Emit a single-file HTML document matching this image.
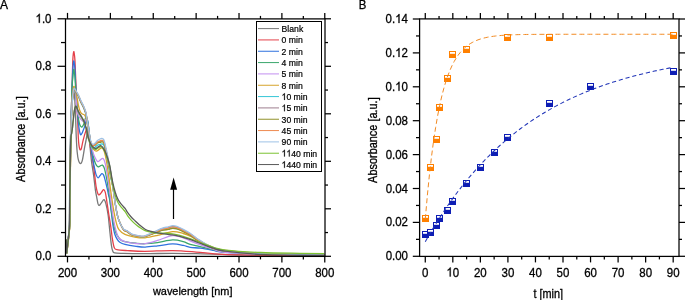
<!DOCTYPE html>
<html><head><meta charset="utf-8"><style>
html,body{margin:0;padding:0;background:#fff;width:685px;height:300px;overflow:hidden;position:relative;font-family:"Liberation Sans",sans-serif}
</style></head><body>
<div style="position:absolute;left:0;top:0;width:685px;height:300px;will-change:transform">
<svg xmlns="http://www.w3.org/2000/svg" width="685" height="300" viewBox="0 0 685 300" style="position:absolute;left:0;top:0">
<defs><filter id="bl" x="0" y="0" width="685" height="300" filterUnits="userSpaceOnUse" color-interpolation-filters="sRGB"><feConvolveMatrix order="3" kernelMatrix="" edgeMode="duplicate"/></filter></defs>
<g>
<rect width="685" height="300" fill="#fff"/>
<defs><clipPath id="ca"><rect x="66" y="19" width="258.5" height="237"/></clipPath></defs>
<g clip-path="url(#ca)" fill="none" stroke-width="1.3" stroke-linejoin="round">
<path d="M66.34,239.68C66.41,241.83 66.6,251.13 66.77,252.59C66.94,254.06 67.16,250.14 67.37,248.46C67.59,246.78 67.81,244.7 68.06,242.53C68.31,240.35 68.63,237.66 68.87,235.4C69.12,233.14 69.36,231.44 69.52,228.99C69.67,226.53 69.72,226.02 69.79,220.68C69.87,215.33 69.85,205.24 69.94,196.93C70.03,188.61 70.21,178.72 70.33,170.8C70.45,162.88 70.56,156.15 70.67,149.43C70.79,142.7 70.86,136.76 71.02,130.43C71.17,124.09 71.38,116.77 71.62,111.43C71.85,106.08 72.13,101.73 72.43,98.36C72.73,95 73.13,92.23 73.42,91.24C73.7,90.25 73.9,90.64 74.15,92.43C74.4,94.21 74.67,97.57 74.92,101.93C75.17,106.28 75.42,112.61 75.65,118.55C75.88,124.49 76.04,132.01 76.29,137.55C76.54,143.09 76.79,148.04 77.15,151.8C77.51,155.56 77.87,158.13 78.43,160.11C79,162.09 79.88,163.68 80.54,163.68C81.19,163.68 81.69,162.88 82.38,160.11C83.07,157.34 84.03,150.41 84.65,147.05C85.27,143.69 85.64,142.5 86.11,139.93C86.57,137.35 87.04,132.8 87.44,131.61C87.84,130.43 88.12,130.62 88.51,132.8C88.9,134.98 89.3,139.93 89.8,144.68C90.3,149.43 90.88,156.23 91.51,161.3C92.15,166.37 92.97,170.32 93.61,175.07C94.26,179.82 94.86,186.16 95.37,189.8C95.88,193.44 96.23,194.63 96.66,196.93C97.09,199.22 97.54,202.15 97.94,203.58C98.35,205 98.53,205.59 99.1,205.48C99.67,205.36 100.57,203.85 101.37,202.86C102.18,201.87 103.2,199.42 103.95,199.54C104.7,199.66 105.18,201 105.88,203.58C106.57,206.15 107.43,210.15 108.11,214.98C108.79,219.8 109.39,227.44 109.95,232.55C110.51,237.66 110.99,242.53 111.45,245.61C111.92,248.7 112.2,249.85 112.74,251.08C113.27,252.3 112.92,252.58 114.67,252.98C116.42,253.37 118.24,253.33 123.24,253.45C128.25,253.57 136.46,253.71 144.68,253.69C152.9,253.67 163.98,253.33 172.55,253.33C181.13,253.33 187.92,253.51 196.14,253.69C204.36,253.87 211.14,254.16 221.86,254.4C232.58,254.64 243.3,254.95 260.46,255.11C277.61,255.27 314.05,255.31 324.77,255.35" stroke="#787878"/>
<path d="M66.04,239.68C66.11,241.83 66.3,251.13 66.47,252.59C66.64,254.06 66.86,250.14 67.07,248.46C67.29,246.78 67.51,244.7 67.76,242.53C68.01,240.35 68.33,237.66 68.57,235.4C68.81,233.14 69.06,231.44 69.22,228.99C69.37,226.53 69.42,226.02 69.49,220.68C69.57,215.33 69.55,205.24 69.64,196.93C69.73,188.61 69.91,178.72 70.03,170.8C70.15,162.88 70.26,156.15 70.37,149.43C70.49,142.7 70.54,137.55 70.72,130.43C70.89,123.3 71.21,114.2 71.44,106.68C71.68,99.15 71.9,93.06 72.13,85.3C72.36,77.54 72.56,65.71 72.82,60.13C73.07,54.54 73.42,52.76 73.67,51.81C73.93,50.86 74.15,53.04 74.36,54.43C74.57,55.81 74.71,56.52 74.92,60.13C75.13,63.73 75.34,69.86 75.6,76.04C75.87,82.21 76.21,90.88 76.5,97.18C76.8,103.47 77.13,109.05 77.36,113.8C77.59,118.55 77.72,121.72 77.88,125.68C78.03,129.63 78.13,134.3 78.31,137.55C78.48,140.8 78.71,143.25 78.95,145.15C79.18,147.05 79.46,148.16 79.72,148.95C79.98,149.74 80.21,150.02 80.49,149.9C80.78,149.78 80.98,149.9 81.44,148.24C81.89,146.58 82.49,142.85 83.24,139.93C83.99,137 85.24,132.72 85.94,130.66C86.64,128.6 86.97,127.22 87.44,127.57C87.9,127.93 88.23,129.59 88.73,132.8C89.22,136.01 89.86,143.05 90.4,146.81C90.93,150.57 91.47,152.55 91.94,155.36C92.41,158.17 92.78,160.51 93.23,163.68C93.67,166.84 94.1,170.4 94.6,174.36C95.1,178.32 95.6,184.06 96.23,187.43C96.86,190.79 97.59,193.6 98.37,194.55C99.16,195.5 100.09,193.96 100.95,193.12C101.8,192.29 102.8,189.72 103.52,189.56C104.23,189.4 104.72,190.43 105.23,192.18C105.75,193.92 106.03,196.45 106.61,200.01C107.18,203.58 108,209.31 108.66,213.55C109.33,217.79 109.95,221.07 110.59,225.43C111.24,229.78 111.92,235.99 112.52,239.68C113.13,243.36 113.52,245.85 114.24,247.51C114.95,249.18 114.6,249.14 116.81,249.65C119.03,250.16 122.89,250.32 127.53,250.6C132.18,250.88 137.18,251.31 144.68,251.31C152.19,251.31 163.98,250.48 172.55,250.6C181.13,250.72 187.92,251.39 196.14,252.03C204.36,252.66 211.14,253.89 221.86,254.4C232.58,254.91 243.3,254.95 260.46,255.11C277.61,255.27 314.05,255.31 324.77,255.35" stroke="#e4404a"/>
<path d="M66.13,239.68C66.2,241.83 66.39,251.13 66.56,252.59C66.73,254.06 66.94,250.14 67.16,248.46C67.37,246.78 67.59,244.7 67.84,242.53C68.09,240.35 68.41,237.66 68.66,235.4C68.9,233.14 69.15,231.44 69.3,228.99C69.45,226.53 69.51,226.02 69.58,220.68C69.65,215.33 69.64,205.24 69.73,196.93C69.82,188.61 69.99,178.72 70.12,170.8C70.24,162.88 70.34,156.15 70.46,149.43C70.57,142.7 70.63,137.55 70.8,130.43C70.97,123.3 71.25,114.2 71.47,106.68C71.69,99.15 71.91,91.51 72.13,85.3C72.35,79.09 72.56,73.43 72.82,69.39C73.07,65.35 73.42,61.99 73.67,61.08C73.93,60.16 74.15,62.66 74.36,63.93C74.57,65.19 74.71,65.51 74.92,68.68C75.13,71.84 75.34,77.78 75.6,82.93C75.87,88.07 76.21,94.8 76.5,99.55C76.8,104.3 77.08,107.86 77.36,111.43C77.65,114.99 77.91,117.96 78.22,120.93C78.53,123.89 78.88,127.1 79.21,129.24C79.53,131.38 79.87,132.8 80.15,133.75C80.43,134.7 80.59,134.98 80.88,134.94C81.16,134.9 81.49,134.26 81.86,133.51C82.24,132.76 82.66,131.65 83.15,130.43C83.64,129.2 84.29,127.81 84.78,126.15C85.27,124.49 85.68,121.52 86.11,120.45C86.54,119.38 86.92,118.47 87.35,119.74C87.79,121 88.25,124.29 88.73,128.05C89.2,131.81 89.69,137.95 90.23,142.3C90.76,146.65 91.3,150.22 91.94,154.18C92.58,158.13 93.41,162.69 94.08,166.05C94.76,169.41 95.34,172.38 96.01,174.36C96.69,176.34 97.44,177.73 98.12,177.93C98.79,178.12 99.47,176.26 100.09,175.55C100.7,174.84 101.23,173.77 101.8,173.65C102.37,173.53 102.95,173.73 103.52,174.84C104.09,175.95 104.66,178.2 105.23,180.3C105.81,182.4 106.39,184.97 106.95,187.43C107.51,189.88 108.11,192.85 108.58,195.03C109.05,197.2 109.34,197.8 109.78,200.49C110.22,203.18 110.71,207.02 111.24,211.18C111.77,215.33 112.38,221.66 112.95,225.43C113.52,229.19 113.97,231.44 114.67,233.74C115.36,236.03 116.25,237.78 117.11,239.2C117.97,240.63 118.5,241.42 119.81,242.29C121.12,243.16 122.24,243.75 124.96,244.43C127.67,245.1 132.75,245.89 136.11,246.33C139.47,246.76 141.54,247.12 145.11,247.04C148.68,246.96 152.97,246.36 157.55,245.85C162.12,245.34 168.27,244.03 172.55,243.95C176.84,243.87 180.34,244.82 183.27,245.38C186.2,245.93 187.28,246.8 190.13,247.28C192.99,247.75 196.57,247.71 200.42,248.23C204.28,248.74 209.72,249.73 213.29,250.36C216.86,251 215.72,251.51 221.86,252.03C228.01,252.54 233.01,252.98 250.16,253.45C267.32,253.93 312.34,254.64 324.77,254.88" stroke="#2f72de"/>
<path d="M66.17,239.68C66.24,241.83 66.43,251.13 66.6,252.59C66.77,254.06 66.99,250.14 67.2,248.46C67.41,246.78 67.64,244.7 67.89,242.53C68.14,240.35 68.46,237.66 68.7,235.4C68.94,233.14 69.19,231.44 69.34,228.99C69.5,226.53 69.55,226.02 69.62,220.68C69.69,215.33 69.68,205.24 69.77,196.93C69.86,188.61 70.04,178.72 70.16,170.8C70.28,162.88 70.39,156.15 70.5,149.43C70.62,142.7 70.68,137.55 70.84,130.43C71.01,123.3 71.27,114.2 71.49,106.68C71.7,99.15 71.91,90.09 72.13,85.3C72.35,80.51 72.56,80.55 72.82,77.94C73.07,75.33 73.42,70.58 73.67,69.62C73.93,68.67 74.15,71.01 74.36,72.24C74.57,73.46 74.71,74.41 74.92,76.99C75.13,79.56 75.34,83.72 75.6,87.68C75.87,91.63 76.18,96.78 76.5,100.74C76.83,104.7 77.22,108.26 77.58,111.43C77.93,114.59 78.26,117.48 78.65,119.74C79.04,121.99 79.45,123.74 79.93,124.96C80.42,126.19 81.1,126.9 81.56,127.1C82.03,127.3 82.3,126.78 82.72,126.15C83.14,125.52 83.59,124.76 84.09,123.3C84.59,121.84 85.24,118.15 85.72,117.36C86.21,116.57 86.55,116.97 87.01,118.55C87.47,120.13 87.97,123.3 88.51,126.86C89.05,130.43 89.65,136.16 90.23,139.93C90.8,143.69 91.37,146.46 91.94,149.43C92.51,152.39 93.05,155.36 93.66,157.74C94.26,160.11 94.89,162.17 95.59,163.68C96.28,165.18 97.07,166.37 97.82,166.76C98.57,167.16 99.32,166.33 100.09,166.05C100.85,165.77 101.69,164.7 102.4,165.1C103.12,165.5 103.62,165.89 104.38,168.43C105.13,170.96 106.09,175.55 106.95,180.3C107.81,185.05 108.66,190.99 109.52,196.93C110.38,202.86 111.24,210.58 112.09,215.93C112.95,221.27 113.81,225.74 114.67,228.99C115.52,232.23 116.17,233.54 117.24,235.4C118.31,237.26 119.81,239.12 121.1,240.15C122.39,241.18 122.46,241.06 124.96,241.58C127.46,242.09 132.75,242.88 136.11,243.24C139.47,243.59 141.54,243.83 145.11,243.71C148.68,243.59 152.97,243.16 157.55,242.53C162.12,241.89 168.27,240.07 172.55,239.91C176.84,239.75 180.34,240.82 183.27,241.58C186.2,242.33 187.35,243.59 190.13,244.43C192.92,245.26 196.14,245.69 200,246.56C203.86,247.43 209.64,248.82 213.29,249.65C216.93,250.48 215.72,250.92 221.86,251.55C228.01,252.18 233.01,252.9 250.16,253.45C267.32,254 312.34,254.64 324.77,254.88" stroke="#3aa66c"/>
<path d="M66.28,239.68C66.35,241.83 66.54,251.13 66.71,252.59C66.88,254.06 67.09,250.14 67.31,248.46C67.52,246.78 67.74,244.7 67.99,242.53C68.24,240.35 68.56,237.66 68.81,235.4C69.05,233.14 69.3,231.44 69.45,228.99C69.6,226.53 69.66,226.02 69.73,220.68C69.8,215.33 69.79,205.24 69.88,196.93C69.97,188.61 70.14,178.72 70.27,170.8C70.39,162.88 70.49,156.15 70.61,149.43C70.72,142.7 70.79,136.76 70.95,130.43C71.11,124.09 71.34,116.77 71.56,111.43C71.79,106.08 72.01,101.73 72.3,98.36C72.59,95 72.96,92.62 73.29,91.24C73.62,89.85 73.92,89.85 74.27,90.05C74.63,90.25 75.11,91.04 75.43,92.43C75.75,93.81 76,95.99 76.2,98.36C76.4,100.74 76.48,104.38 76.63,106.68C76.79,108.97 76.81,110.63 77.15,112.14C77.48,113.64 78.11,114.63 78.65,115.7C79.18,116.77 79.79,117.76 80.36,118.55C80.94,119.34 81.54,119.94 82.08,120.45C82.61,120.96 83.12,121.52 83.58,121.64C84.04,121.76 84.4,121.6 84.87,121.16C85.33,120.73 85.9,118.67 86.37,119.03C86.83,119.38 87.19,121 87.65,123.3C88.12,125.6 88.65,129.63 89.15,132.8C89.65,135.97 90.12,139.41 90.65,142.3C91.19,145.19 91.73,147.76 92.37,150.14C93.01,152.51 93.64,154.65 94.51,156.55C95.39,158.45 96.67,160.94 97.6,161.54C98.53,162.13 99.17,160.63 100.09,160.11C101,159.6 102.23,157.86 103.09,158.45C103.95,159.04 104.45,160.43 105.23,163.68C106.02,166.92 106.95,172.38 107.81,177.93C108.66,183.47 109.52,190.59 110.38,196.93C111.24,203.26 112.09,210.58 112.95,215.93C113.81,221.27 114.52,225.27 115.52,228.99C116.52,232.71 117.38,236.15 118.95,238.25C120.53,240.35 122.1,240.7 124.96,241.58C127.82,242.45 132.75,243.12 136.11,243.48C139.47,243.83 141.54,244.23 145.11,243.71C148.68,243.2 152.97,241.73 157.55,240.39C162.12,239.04 168.27,236.07 172.55,235.64C176.84,235.2 180.34,236.9 183.27,237.78C186.2,238.65 187.35,239.71 190.13,240.86C192.92,242.01 196.14,243.28 200,244.66C203.86,246.05 209.14,247.91 213.29,249.18C217.43,250.44 217,251.47 224.87,252.26C232.73,253.05 243.8,253.49 260.46,253.93C277.11,254.36 314.05,254.72 324.77,254.88" stroke="#c28ef0"/>
<path d="M66.41,239.68C66.48,241.83 66.66,251.13 66.84,252.59C67.01,254.06 67.22,250.14 67.44,248.46C67.65,246.78 67.87,244.7 68.12,242.53C68.37,240.35 68.69,237.66 68.94,235.4C69.18,233.14 69.43,231.44 69.58,228.99C69.73,226.53 69.79,226.02 69.86,220.68C69.93,215.33 69.92,205.24 70.01,196.93C70.1,188.61 70.27,178.72 70.39,170.8C70.52,162.88 70.62,156.15 70.74,149.43C70.85,142.7 70.94,136.76 71.08,130.43C71.22,124.09 71.4,117.16 71.6,111.43C71.81,105.69 72.02,99.87 72.3,95.99C72.58,92.11 72.98,89.73 73.29,88.15C73.6,86.57 73.86,86.17 74.15,86.49C74.43,86.8 74.68,88.86 75,90.05C75.33,91.24 75.73,92.27 76.08,93.61C76.43,94.96 76.75,96.34 77.1,98.12C77.46,99.91 77.81,102.32 78.22,104.3C78.63,106.28 79.06,108.5 79.59,110C80.12,111.5 80.8,112.61 81.39,113.33C81.99,114.04 82.59,113.96 83.15,114.28C83.72,114.59 84.29,114.59 84.78,115.23C85.27,115.86 85.63,116.33 86.11,118.08C86.59,119.82 87.04,122.43 87.65,125.68C88.27,128.92 89.08,134.19 89.8,137.55C90.51,140.91 91.23,143.8 91.94,145.86C92.66,147.92 93.34,149.03 94.08,149.9C94.83,150.77 95.61,151.13 96.4,151.09C97.19,151.05 98.02,150.18 98.8,149.66C99.59,149.15 100.33,148.04 101.12,148C101.9,147.96 102.69,147.6 103.52,149.43C104.35,151.25 105.23,154.57 106.09,158.93C106.95,163.28 107.81,169.61 108.66,175.55C109.52,181.49 110.38,188.61 111.24,194.55C112.09,200.49 112.95,206.43 113.81,211.18C114.67,215.93 115.52,219.96 116.38,223.05C117.24,226.14 117.53,227.8 118.95,229.7C120.38,231.6 122.1,233.18 124.96,234.45C127.82,235.72 132.75,236.75 136.11,237.3C139.47,237.85 141.54,238.09 145.11,237.78C148.68,237.46 152.97,236.43 157.55,235.4C162.12,234.37 168.27,231.92 172.55,231.6C176.84,231.28 180.34,232.75 183.27,233.5C186.2,234.25 187.35,234.77 190.13,236.11C192.92,237.46 196.14,239.71 200,241.58C203.86,243.44 209.64,245.89 213.29,247.28C216.93,248.66 214,248.86 221.86,249.89C229.73,250.92 243.3,252.62 260.46,253.45C277.61,254.28 314.05,254.64 324.77,254.88" stroke="#d6a42c"/>
<path d="M65.98,239.68C66.05,241.83 66.24,251.13 66.41,252.59C66.58,254.06 66.79,250.14 67.01,248.46C67.22,246.78 67.44,244.7 67.69,242.53C67.94,240.35 68.26,237.66 68.51,235.4C68.75,233.14 69,231.44 69.15,228.99C69.3,226.53 69.36,226.02 69.43,220.68C69.5,215.33 69.49,205.24 69.58,196.93C69.67,188.61 69.84,178.72 69.97,170.8C70.09,162.88 70.19,156.15 70.31,149.43C70.42,142.7 70.45,136.36 70.65,130.43C70.85,124.49 71.23,118.75 71.53,113.8C71.82,108.85 72.14,104.22 72.43,100.74C72.72,97.25 73.01,94.68 73.29,92.9C73.57,91.12 73.82,90.37 74.1,90.05C74.39,89.73 74.68,90.53 75,91C75.33,91.48 75.56,92.07 76.08,92.9C76.59,93.73 77.25,94.33 78.09,95.99C78.93,97.65 80.09,100.7 81.09,102.88C82.09,105.05 83.26,107.03 84.09,109.05C84.93,111.07 85.55,112.41 86.11,114.99C86.67,117.56 86.97,121.12 87.44,124.49C87.91,127.85 88.4,131.81 88.94,135.18C89.48,138.54 90.05,142.5 90.65,144.68C91.26,146.85 91.87,147.8 92.58,148.24C93.3,148.67 94.12,147.8 94.94,147.29C95.76,146.77 96.66,145.63 97.52,145.15C98.37,144.68 99.34,144.64 100.09,144.44C100.84,144.24 101.37,143.8 102.02,143.96C102.66,144.12 103.27,143.73 103.95,145.39C104.63,147.05 105.38,150.81 106.09,153.94C106.81,157.06 107.52,160.47 108.24,164.15C108.95,167.83 109.59,172.15 110.38,176.03C111.17,179.9 112.09,182.56 112.95,187.43C113.81,192.29 114.74,200.41 115.52,205.24C116.31,210.07 116.88,213.35 117.67,216.4C118.45,219.45 119.24,221.31 120.24,223.53C121.24,225.74 122.46,228.35 123.67,229.7C124.89,231.05 126.17,230.73 127.53,231.6C128.89,232.47 130.03,234.13 131.82,234.93C133.61,235.72 136.11,236.07 138.25,236.35C140.39,236.63 142.18,237.07 144.68,236.59C147.18,236.1 150.4,234.54 153.26,233.45C156.12,232.36 159.33,230.81 161.83,230.06C164.34,229.32 166.48,229.36 168.27,228.99C170.05,228.61 171.12,227.88 172.55,227.8C173.98,227.72 175.05,227.94 176.84,228.51C178.63,229.08 181.06,230.15 183.27,231.22C185.49,232.29 187.99,233.6 190.13,234.93C192.28,236.25 194.42,238.06 196.14,239.2C197.85,240.34 198.64,240.74 200.42,241.77C202.21,242.79 204.71,244.26 206.86,245.33C209,246.4 211.07,247.39 213.29,248.18C215.5,248.96 218.15,249.58 220.15,250.03C222.15,250.48 222.86,250.55 225.29,250.89C227.72,251.22 230.58,251.64 234.73,252.03C238.87,252.41 242.3,252.86 250.16,253.21C258.03,253.57 269.46,253.89 281.89,254.16C294.33,254.44 317.63,254.76 324.77,254.88" stroke="#36c6d6"/>
<path d="M66.24,239.68C66.31,241.83 66.49,251.13 66.66,252.59C66.84,254.06 67.05,250.14 67.26,248.46C67.48,246.78 67.7,244.7 67.95,242.53C68.2,240.35 68.52,237.66 68.76,235.4C69.01,233.14 69.25,231.44 69.41,228.99C69.56,226.53 69.62,226.02 69.69,220.68C69.76,215.33 69.75,205.24 69.84,196.93C69.93,188.61 70.1,178.72 70.22,170.8C70.34,162.88 70.45,156.15 70.57,149.43C70.68,142.7 70.74,136.36 70.91,130.43C71.08,124.49 71.34,118.87 71.59,113.8C71.84,108.73 72.15,103.63 72.43,100.03C72.71,96.42 73.01,93.97 73.29,92.19C73.57,90.41 73.82,89.65 74.1,89.34C74.39,89.02 74.68,89.81 75,90.29C75.33,90.76 75.56,91.36 76.08,92.19C76.59,93.02 77.25,93.61 78.09,95.28C78.93,96.94 80.09,99.99 81.09,102.16C82.09,104.34 83.26,106.32 84.09,108.34C84.93,110.36 85.55,111.7 86.11,114.28C86.67,116.85 86.97,120.73 87.44,123.78C87.91,126.82 88.4,129.51 88.94,132.56C89.48,135.61 90.05,139.89 90.65,142.06C91.26,144.24 91.87,145.19 92.58,145.62C93.3,146.06 94.12,145.23 94.94,144.68C95.76,144.12 96.66,142.85 97.52,142.3C98.37,141.75 99.34,141.59 100.09,141.35C100.84,141.11 101.37,140.72 102.02,140.88C102.66,141.03 103.27,140.64 103.95,142.3C104.63,143.96 105.38,147.72 106.09,150.85C106.81,153.98 107.52,157.38 108.24,161.06C108.95,164.74 109.59,168.54 110.38,172.94C111.17,177.33 112.09,182.04 112.95,187.43C113.81,192.81 114.74,200.41 115.52,205.24C116.31,210.07 116.88,213.35 117.67,216.4C118.45,219.45 119.24,221.35 120.24,223.53C121.24,225.7 122.46,228.16 123.67,229.46C124.89,230.77 126.17,230.53 127.53,231.36C128.89,232.19 130.03,233.7 131.82,234.45C133.61,235.2 136.11,235.6 138.25,235.88C140.39,236.15 142.18,236.64 144.68,236.11C147.18,235.58 150.4,233.89 153.26,232.69C156.12,231.49 159.33,229.76 161.83,228.9C164.34,228.05 166.48,227.98 168.27,227.56C170.05,227.14 171.12,226.45 172.55,226.38C173.98,226.3 175.05,226.49 176.84,227.09C178.63,227.69 181.06,228.84 183.27,229.97C185.49,231.09 187.99,232.46 190.13,233.86C192.28,235.25 194.42,237.15 196.14,238.34C197.85,239.54 198.64,239.97 200.42,241.04C202.21,242.11 204.71,243.66 206.86,244.78C209,245.9 211.07,246.95 213.29,247.77C215.5,248.59 218.15,249.24 220.15,249.72C222.15,250.19 222.86,250.23 225.29,250.61C227.72,251 230.58,251.59 234.73,252.03C238.87,252.46 242.3,252.86 250.16,253.21C258.03,253.57 269.46,253.89 281.89,254.16C294.33,254.44 317.63,254.76 324.77,254.88" stroke="#9e7e8e"/>
<path d="M66.34,239.68C66.41,241.83 66.6,251.13 66.77,252.59C66.94,254.06 67.16,250.14 67.37,248.46C67.59,246.78 67.81,244.7 68.06,242.53C68.31,240.35 68.63,237.66 68.87,235.4C69.12,233.14 69.36,231.44 69.52,228.99C69.67,226.53 69.72,226.02 69.79,220.68C69.87,215.33 69.85,205.24 69.94,196.93C70.03,188.61 70.21,178.72 70.33,170.8C70.45,162.88 70.56,156.15 70.67,149.43C70.79,142.7 70.86,136.36 71.02,130.43C71.17,124.49 71.38,118.91 71.62,113.8C71.85,108.69 72.15,103.43 72.43,99.79C72.71,96.15 73.01,93.73 73.29,91.95C73.57,90.17 73.82,89.42 74.1,89.1C74.39,88.78 74.68,89.58 75,90.05C75.33,90.53 75.56,91.12 76.08,91.95C76.59,92.78 77.25,93.38 78.09,95.04C78.93,96.7 80.09,99.75 81.09,101.93C82.09,104.1 83.26,106.08 84.09,108.1C84.93,110.12 85.55,111.46 86.11,114.04C86.67,116.61 86.97,120.37 87.44,123.54C87.91,126.7 88.4,129.87 88.94,133.04C89.48,136.2 90.05,140.36 90.65,142.54C91.26,144.71 91.87,145.66 92.58,146.1C93.3,146.54 94.12,145.66 94.94,145.15C95.76,144.64 96.66,143.49 97.52,143.01C98.37,142.54 99.34,142.5 100.09,142.3C100.84,142.1 101.37,141.67 102.02,141.83C102.66,141.98 103.27,141.59 103.95,143.25C104.63,144.91 105.38,148.67 106.09,151.8C106.81,154.93 107.52,158.33 108.24,162.01C108.95,165.69 109.59,169.65 110.38,173.89C111.17,178.12 112.09,182.2 112.95,187.43C113.81,192.65 114.74,200.41 115.52,205.24C116.31,210.07 116.88,213.35 117.67,216.4C118.45,219.45 119.24,221.23 120.24,223.53C121.24,225.82 122.46,228.75 123.67,230.18C124.89,231.6 126.17,231.28 127.53,232.08C128.89,232.87 130.03,234.21 131.82,234.93C133.61,235.64 136.11,236.07 138.25,236.35C140.39,236.63 142.18,237.05 144.68,236.59C147.18,236.13 150.4,234.63 153.26,233.6C156.12,232.56 159.33,231.09 161.83,230.4C164.34,229.71 166.48,229.82 168.27,229.46C170.05,229.11 171.12,228.35 172.55,228.28C173.98,228.2 175.05,228.43 176.84,228.99C178.63,229.55 181.06,230.59 183.27,231.64C185.49,232.69 187.99,233.97 190.13,235.28C192.28,236.59 194.42,238.36 196.14,239.49C197.85,240.61 198.64,241 200.42,242.01C202.21,243.01 204.71,244.46 206.86,245.51C209,246.56 211.07,247.54 213.29,248.31C215.5,249.08 218.15,249.69 220.15,250.13C222.15,250.58 222.86,250.66 225.29,250.98C227.72,251.29 230.58,251.65 234.73,252.03C238.87,252.4 242.3,252.86 250.16,253.21C258.03,253.57 269.46,253.89 281.89,254.16C294.33,254.44 317.63,254.76 324.77,254.88" stroke="#92922a"/>
<path d="M66.08,239.68C66.16,241.83 66.34,251.13 66.51,252.59C66.69,254.06 66.9,250.14 67.11,248.46C67.33,246.78 67.55,244.7 67.8,242.53C68.05,240.35 68.37,237.66 68.61,235.4C68.86,233.14 69.1,231.44 69.26,228.99C69.41,226.53 69.47,226.02 69.54,220.68C69.61,215.33 69.6,205.24 69.69,196.93C69.78,188.61 69.95,178.72 70.07,170.8C70.19,162.88 70.3,156.15 70.42,149.43C70.53,142.7 70.57,136.36 70.76,130.43C70.95,124.49 71.27,118.95 71.55,113.8C71.83,108.65 72.14,103.23 72.43,99.55C72.72,95.87 73.01,93.49 73.29,91.71C73.57,89.93 73.82,89.18 74.1,88.86C74.39,88.55 74.68,89.34 75,89.81C75.33,90.29 75.56,90.88 76.08,91.71C76.59,92.54 77.25,93.14 78.09,94.8C78.93,96.46 80.09,99.51 81.09,101.69C82.09,103.86 83.26,105.84 84.09,107.86C84.93,109.88 85.55,111.23 86.11,113.8C86.67,116.37 86.97,120.17 87.44,123.3C87.91,126.43 88.4,129.44 88.94,132.56C89.48,135.69 90.05,139.89 90.65,142.06C91.26,144.24 91.87,145.19 92.58,145.62C93.3,146.06 94.12,145.27 94.94,144.68C95.76,144.08 96.66,142.7 97.52,142.06C98.37,141.43 99.34,141.15 100.09,140.88C100.84,140.6 101.37,140.24 102.02,140.4C102.66,140.56 103.27,140.16 103.95,141.83C104.63,143.49 105.38,147.25 106.09,150.38C106.81,153.5 107.52,156.91 108.24,160.59C108.95,164.27 109.59,167.99 110.38,172.46C111.17,176.94 112.09,181.96 112.95,187.43C113.81,192.89 114.74,200.41 115.52,205.24C116.31,210.07 116.88,213.35 117.67,216.4C118.45,219.45 119.24,221.31 120.24,223.53C121.24,225.74 122.46,228.35 123.67,229.7C124.89,231.05 126.17,230.77 127.53,231.6C128.89,232.43 130.03,233.94 131.82,234.69C133.61,235.44 136.11,235.84 138.25,236.11C140.39,236.39 142.18,236.87 144.68,236.35C147.18,235.83 150.4,234.17 153.26,233C156.12,231.83 159.33,230.14 161.83,229.31C164.34,228.48 166.48,228.45 168.27,228.04C170.05,227.63 171.12,226.93 172.55,226.85C173.98,226.77 175.05,226.97 176.84,227.56C178.63,228.15 181.06,229.28 183.27,230.38C185.49,231.49 187.99,232.84 190.13,234.21C192.28,235.59 194.42,237.45 196.14,238.63C197.85,239.81 198.64,240.23 200.42,241.28C202.21,242.34 204.71,243.86 206.86,244.96C209,246.07 211.07,247.1 213.29,247.91C215.5,248.72 218.15,249.35 220.15,249.82C222.15,250.29 222.86,250.34 225.29,250.7C227.72,251.07 230.58,251.61 234.73,252.03C238.87,252.44 242.3,252.86 250.16,253.21C258.03,253.57 269.46,253.89 281.89,254.16C294.33,254.44 317.63,254.76 324.77,254.88" stroke="#ee8a50"/>
<path d="M66.21,239.68C66.29,241.83 66.47,251.13 66.64,252.59C66.81,254.06 67.03,250.14 67.24,248.46C67.46,246.78 67.68,244.7 67.93,242.53C68.18,240.35 68.5,237.66 68.74,235.4C68.99,233.14 69.23,231.44 69.39,228.99C69.54,226.53 69.59,226.02 69.67,220.68C69.74,215.33 69.73,205.24 69.82,196.93C69.9,188.61 70.08,178.72 70.2,170.8C70.32,162.88 70.43,156.15 70.54,149.43C70.66,142.7 70.71,136.36 70.89,130.43C71.06,124.49 71.33,119.06 71.58,113.8C71.84,108.54 72.15,102.64 72.43,98.84C72.72,95.04 73.01,92.78 73.29,91C73.57,89.22 73.82,88.47 74.1,88.15C74.39,87.83 74.68,88.63 75,89.1C75.33,89.58 75.56,90.17 76.08,91C76.59,91.83 77.25,92.43 78.09,94.09C78.93,95.75 80.09,98.8 81.09,100.98C82.09,103.15 83.26,105.13 84.09,107.15C84.93,109.17 85.55,110.51 86.11,113.09C86.67,115.66 86.97,119.58 87.44,122.59C87.91,125.6 88.4,128.13 88.94,131.14C89.48,134.15 90.05,138.46 90.65,140.64C91.26,142.81 91.87,143.76 92.58,144.2C93.3,144.64 94.12,143.88 94.94,143.25C95.76,142.62 96.66,141.11 97.52,140.4C98.37,139.69 99.34,139.29 100.09,138.98C100.84,138.66 101.37,138.34 102.02,138.5C102.66,138.66 103.27,138.26 103.95,139.93C104.63,141.59 105.38,145.35 106.09,148.48C106.81,151.6 107.52,155.01 108.24,158.69C108.95,162.37 109.59,165.77 110.38,170.56C111.17,175.35 112.09,181.65 112.95,187.43C113.81,193.2 114.74,200.41 115.52,205.24C116.31,210.07 116.88,213.35 117.67,216.4C118.45,219.45 119.24,221.39 120.24,223.53C121.24,225.66 122.46,227.96 123.67,229.23C124.89,230.49 126.17,230.29 127.53,231.12C128.89,231.96 130.03,233.46 131.82,234.21C133.61,234.96 136.11,235.36 138.25,235.64C140.39,235.91 142.18,236.43 144.68,235.88C147.18,235.32 150.4,233.57 153.26,232.31C156.12,231.05 159.33,229.23 161.83,228.32C164.34,227.41 166.48,227.29 168.27,226.85C170.05,226.41 171.12,225.74 172.55,225.66C173.98,225.58 175.05,225.76 176.84,226.38C178.63,226.99 181.06,228.18 183.27,229.34C185.49,230.5 187.99,231.89 190.13,233.32C192.28,234.75 194.42,236.69 196.14,237.92C197.85,239.14 198.64,239.58 200.42,240.67C202.21,241.77 204.71,243.36 206.86,244.5C209,245.65 211.07,246.73 213.29,247.57C215.5,248.41 218.15,249.07 220.15,249.56C222.15,250.04 222.86,250.07 225.29,250.48C227.72,250.89 230.58,251.57 234.73,252.03C238.87,252.48 242.3,252.86 250.16,253.21C258.03,253.57 269.46,253.89 281.89,254.16C294.33,254.44 317.63,254.76 324.77,254.88" stroke="#9ec2e6"/>
<path d="M66.26,239.68C66.33,241.83 66.51,251.13 66.69,252.59C66.86,254.06 67.07,250.14 67.29,248.46C67.5,246.78 67.72,244.7 67.97,242.53C68.22,240.35 68.54,237.66 68.79,235.4C69.03,233.14 69.28,231.44 69.43,228.99C69.58,226.53 69.64,226.02 69.71,220.68C69.78,215.33 69.77,205.24 69.86,196.93C69.95,188.61 70.12,178.72 70.24,170.8C70.37,162.88 70.45,155.16 70.59,149.43C70.73,143.69 70.92,139.01 71.09,136.36C71.27,133.71 71.43,134.7 71.63,133.51C71.84,132.32 72.03,131.53 72.3,129.24C72.58,126.94 72.95,122.79 73.29,119.74C73.62,116.69 73.95,113.17 74.32,110.95C74.69,108.73 75.12,106.99 75.52,106.44C75.92,105.88 76.17,106.52 76.72,107.62C77.27,108.73 78.07,111.5 78.82,113.09C79.57,114.67 80.32,115.54 81.22,117.13C82.12,118.71 83.37,120.49 84.22,122.59C85.08,124.69 85.72,127.14 86.37,129.71C87.01,132.29 87.22,135.25 88.08,138.03C88.94,140.8 90.34,144.44 91.51,146.34C92.68,148.24 94.04,149.15 95.11,149.43C96.19,149.7 97.03,148.47 97.94,148C98.86,147.53 99.75,146.46 100.6,146.57C101.46,146.69 102.17,147.37 103.09,148.71C104,150.06 105.02,151.84 106.09,154.65C107.16,157.46 108.45,160.68 109.52,165.57C110.59,170.47 111.56,179.03 112.52,184.04C113.49,189.05 114.38,192.5 115.31,195.62C116.24,198.74 117,200.69 118.1,202.74C119.19,204.8 120.71,206.5 121.87,207.97C123.04,209.43 124.11,210.22 125.09,211.53C126.06,212.84 126.72,214.42 127.7,215.81C128.68,217.19 129.74,218.5 130.96,219.84C132.18,221.19 133.61,222.63 135.03,223.88C136.46,225.13 137.86,226.24 139.54,227.36C141.22,228.49 143.18,229.83 145.11,230.65C147.04,231.47 149.04,231.85 151.11,232.26C153.19,232.67 155.04,232.93 157.55,233.1C160.05,233.27 163.62,233.12 166.12,233.26C168.62,233.41 170.27,233.62 172.55,233.98C174.84,234.33 177.34,234.77 179.84,235.4C182.34,236.03 184.85,236.86 187.56,237.78C190.28,238.69 193.99,240.07 196.14,240.86C198.28,241.65 197.57,241.46 200.42,242.53C203.28,243.59 209.14,246.01 213.29,247.28C217.43,248.54 217.43,249.25 225.29,250.12C233.16,251 248.02,251.97 260.46,252.5C272.89,253.03 289.18,253.15 299.9,253.33C310.62,253.51 320.63,253.53 324.77,253.57" stroke="#7cc232"/>
<path d="M66.13,239.68C66.2,241.83 66.39,251.13 66.56,252.59C66.73,254.06 66.94,250.14 67.16,248.46C67.37,246.78 67.59,244.7 67.84,242.53C68.09,240.35 68.41,237.66 68.66,235.4C68.9,233.14 69.15,231.44 69.3,228.99C69.45,226.53 69.51,226.02 69.58,220.68C69.65,215.33 69.64,205.24 69.73,196.93C69.82,188.61 69.99,178.72 70.12,170.8C70.24,162.88 70.32,155.16 70.46,149.43C70.6,143.69 70.79,139.01 70.98,136.36C71.17,133.71 71.39,134.7 71.61,133.51C71.83,132.32 72.02,131.53 72.3,129.24C72.58,126.94 72.95,122.79 73.29,119.74C73.62,116.69 73.95,113.17 74.32,110.95C74.69,108.73 75.12,106.99 75.52,106.44C75.92,105.88 76.17,106.67 76.72,107.62C77.27,108.58 78.07,110.71 78.82,112.14C79.57,113.56 80.32,114.59 81.22,116.18C82.12,117.76 83.37,119.54 84.22,121.64C85.08,123.74 85.72,126.19 86.37,128.76C87.01,131.34 87.22,134.3 88.08,137.08C88.94,139.85 90.34,143.49 91.51,145.39C92.68,147.29 94.04,148.2 95.11,148.48C96.19,148.75 97.03,147.53 97.94,147.05C98.86,146.58 99.75,145.51 100.6,145.62C101.46,145.74 102.17,146.42 103.09,147.76C104,149.11 105.02,150.89 106.09,153.7C107.16,156.51 108.45,160.02 109.52,164.62C110.59,169.23 111.56,176.66 112.52,181.31C113.49,185.96 114.38,189.47 115.31,192.53C116.24,195.59 117,197.6 118.1,199.66C119.19,201.71 120.71,203.42 121.87,204.88C123.04,206.35 124.11,207.14 125.09,208.44C126.06,209.75 126.72,211.33 127.7,212.72C128.68,214.1 129.74,215.41 130.96,216.76C132.18,218.1 133.61,219.43 135.03,220.79C136.46,222.15 137.86,223.51 139.54,224.91C141.22,226.32 143.18,228.14 145.11,229.23C147.04,230.31 149.04,230.79 151.11,231.41C153.19,232.04 155.04,232.49 157.55,232.95C160.05,233.42 163.62,233.88 166.12,234.21C168.62,234.54 170.27,234.57 172.55,234.93C174.84,235.28 177.34,235.72 179.84,236.35C182.34,236.98 184.85,237.81 187.56,238.73C190.28,239.64 193.99,241.02 196.14,241.81C198.28,242.6 197.57,242.41 200.42,243.48C203.28,244.54 209.14,246.96 213.29,248.23C217.43,249.49 217.43,250.05 225.29,251.08C233.16,252.1 248.02,253.71 260.46,254.4C272.89,255.09 289.18,255.05 299.9,255.23C310.62,255.41 320.63,255.43 324.77,255.47" stroke="#5a5a5a"/>
</g>
<line x1="173.5" y1="219" x2="173.5" y2="188" stroke="#000" stroke-width="1.2"/>
<path d="M173.6,177.4 L170.2,189.8 L177.1,189.8 Z" fill="#000"/>
<g stroke="#000" stroke-width="1.25"><rect x="65.5" y="18.9" width="259.5" height="237.5" fill="none"/><line x1="67.5" y1="256.4" x2="67.5" y2="262.4"/><line x1="67.5" y1="18.9" x2="67.5" y2="12.9"/><line x1="110.38" y1="256.4" x2="110.38" y2="262.4"/><line x1="110.38" y1="18.9" x2="110.38" y2="12.9"/><line x1="153.26" y1="256.4" x2="153.26" y2="262.4"/><line x1="153.26" y1="18.9" x2="153.26" y2="12.9"/><line x1="196.14" y1="256.4" x2="196.14" y2="262.4"/><line x1="196.14" y1="18.9" x2="196.14" y2="12.9"/><line x1="239.02" y1="256.4" x2="239.02" y2="262.4"/><line x1="239.02" y1="18.9" x2="239.02" y2="12.9"/><line x1="281.89" y1="256.4" x2="281.89" y2="262.4"/><line x1="281.89" y1="18.9" x2="281.89" y2="12.9"/><line x1="324.77" y1="256.4" x2="324.77" y2="262.4"/><line x1="324.77" y1="18.9" x2="324.77" y2="12.9"/><line x1="88.94" y1="256.4" x2="88.94" y2="259.4"/><line x1="88.94" y1="18.9" x2="88.94" y2="15.9"/><line x1="131.82" y1="256.4" x2="131.82" y2="259.4"/><line x1="131.82" y1="18.9" x2="131.82" y2="15.9"/><line x1="174.7" y1="256.4" x2="174.7" y2="259.4"/><line x1="174.7" y1="18.9" x2="174.7" y2="15.9"/><line x1="217.58" y1="256.4" x2="217.58" y2="259.4"/><line x1="217.58" y1="18.9" x2="217.58" y2="15.9"/><line x1="260.46" y1="256.4" x2="260.46" y2="259.4"/><line x1="260.46" y1="18.9" x2="260.46" y2="15.9"/><line x1="303.33" y1="256.4" x2="303.33" y2="259.4"/><line x1="303.33" y1="18.9" x2="303.33" y2="15.9"/><line x1="65.5" y1="256.3" x2="57.5" y2="256.3"/><line x1="325" y1="256.3" x2="331" y2="256.3"/><line x1="65.5" y1="208.8" x2="57.5" y2="208.8"/><line x1="325" y1="208.8" x2="331" y2="208.8"/><line x1="65.5" y1="161.3" x2="57.5" y2="161.3"/><line x1="325" y1="161.3" x2="331" y2="161.3"/><line x1="65.5" y1="113.8" x2="57.5" y2="113.8"/><line x1="325" y1="113.8" x2="331" y2="113.8"/><line x1="65.5" y1="66.3" x2="57.5" y2="66.3"/><line x1="325" y1="66.3" x2="331" y2="66.3"/><line x1="65.5" y1="18.8" x2="57.5" y2="18.8"/><line x1="325" y1="18.8" x2="331" y2="18.8"/><line x1="65.5" y1="232.55" x2="61" y2="232.55"/><line x1="325" y1="232.55" x2="328" y2="232.55"/><line x1="65.5" y1="185.05" x2="61" y2="185.05"/><line x1="325" y1="185.05" x2="328" y2="185.05"/><line x1="65.5" y1="137.55" x2="61" y2="137.55"/><line x1="325" y1="137.55" x2="328" y2="137.55"/><line x1="65.5" y1="90.05" x2="61" y2="90.05"/><line x1="325" y1="90.05" x2="328" y2="90.05"/><line x1="65.5" y1="42.55" x2="61" y2="42.55"/><line x1="325" y1="42.55" x2="328" y2="42.55"/></g>
<g stroke="#000" stroke-width="1.25"><rect x="419.6" y="18.9" width="259.4" height="237.5" fill="none"/><line x1="425.28" y1="256.4" x2="425.28" y2="262.4"/><line x1="425.28" y1="18.9" x2="425.28" y2="12.9"/><line x1="452.82" y1="256.4" x2="452.82" y2="262.4"/><line x1="452.82" y1="18.9" x2="452.82" y2="12.9"/><line x1="480.37" y1="256.4" x2="480.37" y2="262.4"/><line x1="480.37" y1="18.9" x2="480.37" y2="12.9"/><line x1="507.91" y1="256.4" x2="507.91" y2="262.4"/><line x1="507.91" y1="18.9" x2="507.91" y2="12.9"/><line x1="535.46" y1="256.4" x2="535.46" y2="262.4"/><line x1="535.46" y1="18.9" x2="535.46" y2="12.9"/><line x1="563" y1="256.4" x2="563" y2="262.4"/><line x1="563" y1="18.9" x2="563" y2="12.9"/><line x1="590.55" y1="256.4" x2="590.55" y2="262.4"/><line x1="590.55" y1="18.9" x2="590.55" y2="12.9"/><line x1="618.1" y1="256.4" x2="618.1" y2="262.4"/><line x1="618.1" y1="18.9" x2="618.1" y2="12.9"/><line x1="645.64" y1="256.4" x2="645.64" y2="262.4"/><line x1="645.64" y1="18.9" x2="645.64" y2="12.9"/><line x1="673.18" y1="256.4" x2="673.18" y2="262.4"/><line x1="673.18" y1="18.9" x2="673.18" y2="12.9"/><line x1="439.05" y1="256.4" x2="439.05" y2="259.4"/><line x1="439.05" y1="18.9" x2="439.05" y2="15.9"/><line x1="466.6" y1="256.4" x2="466.6" y2="259.4"/><line x1="466.6" y1="18.9" x2="466.6" y2="15.9"/><line x1="494.14" y1="256.4" x2="494.14" y2="259.4"/><line x1="494.14" y1="18.9" x2="494.14" y2="15.9"/><line x1="521.69" y1="256.4" x2="521.69" y2="259.4"/><line x1="521.69" y1="18.9" x2="521.69" y2="15.9"/><line x1="549.23" y1="256.4" x2="549.23" y2="259.4"/><line x1="549.23" y1="18.9" x2="549.23" y2="15.9"/><line x1="576.78" y1="256.4" x2="576.78" y2="259.4"/><line x1="576.78" y1="18.9" x2="576.78" y2="15.9"/><line x1="604.32" y1="256.4" x2="604.32" y2="259.4"/><line x1="604.32" y1="18.9" x2="604.32" y2="15.9"/><line x1="631.87" y1="256.4" x2="631.87" y2="259.4"/><line x1="631.87" y1="18.9" x2="631.87" y2="15.9"/><line x1="659.41" y1="256.4" x2="659.41" y2="259.4"/><line x1="659.41" y1="18.9" x2="659.41" y2="15.9"/><line x1="419.6" y1="256.3" x2="412.8" y2="256.3"/><line x1="679" y1="256.3" x2="685" y2="256.3"/><line x1="419.6" y1="222.4" x2="412.8" y2="222.4"/><line x1="679" y1="222.4" x2="685" y2="222.4"/><line x1="419.6" y1="188.5" x2="412.8" y2="188.5"/><line x1="679" y1="188.5" x2="685" y2="188.5"/><line x1="419.6" y1="154.6" x2="412.8" y2="154.6"/><line x1="679" y1="154.6" x2="685" y2="154.6"/><line x1="419.6" y1="120.7" x2="412.8" y2="120.7"/><line x1="679" y1="120.7" x2="685" y2="120.7"/><line x1="419.6" y1="86.8" x2="412.8" y2="86.8"/><line x1="679" y1="86.8" x2="685" y2="86.8"/><line x1="419.6" y1="52.9" x2="412.8" y2="52.9"/><line x1="679" y1="52.9" x2="685" y2="52.9"/><line x1="419.6" y1="19" x2="412.8" y2="19"/><line x1="679" y1="19" x2="685" y2="19"/><line x1="419.6" y1="239.35" x2="416" y2="239.35"/><line x1="679" y1="239.35" x2="682" y2="239.35"/><line x1="419.6" y1="205.45" x2="416" y2="205.45"/><line x1="679" y1="205.45" x2="682" y2="205.45"/><line x1="419.6" y1="171.55" x2="416" y2="171.55"/><line x1="679" y1="171.55" x2="682" y2="171.55"/><line x1="419.6" y1="137.65" x2="416" y2="137.65"/><line x1="679" y1="137.65" x2="682" y2="137.65"/><line x1="419.6" y1="103.75" x2="416" y2="103.75"/><line x1="679" y1="103.75" x2="682" y2="103.75"/><line x1="419.6" y1="69.85" x2="416" y2="69.85"/><line x1="679" y1="69.85" x2="682" y2="69.85"/><line x1="419.6" y1="35.95" x2="416" y2="35.95"/><line x1="679" y1="35.95" x2="682" y2="35.95"/></g>
<g font-family='"Liberation Sans", sans-serif' font-size="12.5" fill="#000" stroke="#000" stroke-width="0.3">
<text transform="translate(67.5,276.5) scale(0.92,1)" text-anchor="middle" font-size="12.5">200</text>
<text transform="translate(110.38,276.5) scale(0.92,1)" text-anchor="middle" font-size="12.5">300</text>
<text transform="translate(153.26,276.5) scale(0.92,1)" text-anchor="middle" font-size="12.5">400</text>
<text transform="translate(196.14,276.5) scale(0.92,1)" text-anchor="middle" font-size="12.5">500</text>
<text transform="translate(239.02,276.5) scale(0.92,1)" text-anchor="middle" font-size="12.5">600</text>
<text transform="translate(281.89,276.5) scale(0.92,1)" text-anchor="middle" font-size="12.5">700</text>
<text transform="translate(324.77,276.5) scale(0.92,1)" text-anchor="middle" font-size="12.5">800</text>
<text transform="translate(51.5,260.3) scale(0.92,1)" text-anchor="end" font-size="12.5">0.0</text>
<text transform="translate(51.5,212.8) scale(0.92,1)" text-anchor="end" font-size="12.5">0.2</text>
<text transform="translate(51.5,165.3) scale(0.92,1)" text-anchor="end" font-size="12.5">0.4</text>
<text transform="translate(51.5,117.8) scale(0.92,1)" text-anchor="end" font-size="12.5">0.6</text>
<text transform="translate(51.5,70.3) scale(0.92,1)" text-anchor="end" font-size="12.5">0.8</text>
<g transform="translate(51.5,22.8) scale(0.92,1)"><path d="M-12.72,0L-13.82,0L-13.82,-7Q-14.21,-6.62 -14.86,-6.24Q-15.5,-5.87 -16.04,-5.66L-16.04,-6.73Q-15.12,-7.16 -14.47,-7.74Q-13.82,-8.32 -13.58,-8.95L-12.72,-8.95Z"/><text x="-10.42" y="0" font-size="12.5">.0</text></g>
<text transform="translate(425.28,276.5) scale(0.92,1)" text-anchor="middle" font-size="12.5">0</text>
<g transform="translate(452.82,276.5) scale(0.92,1)"><path d="M-2.29,0L-3.39,0L-3.39,-7Q-3.79,-6.62 -4.43,-6.24Q-5.08,-5.87 -5.61,-5.66L-5.61,-6.73Q-4.69,-7.16 -4.04,-7.74Q-3.39,-8.32 -3.16,-8.95L-2.29,-8.95Z"/><text x="0" y="0" font-size="12.5">0</text></g>
<text transform="translate(480.37,276.5) scale(0.92,1)" text-anchor="middle" font-size="12.5">20</text>
<text transform="translate(507.91,276.5) scale(0.92,1)" text-anchor="middle" font-size="12.5">30</text>
<text transform="translate(535.46,276.5) scale(0.92,1)" text-anchor="middle" font-size="12.5">40</text>
<text transform="translate(563,276.5) scale(0.92,1)" text-anchor="middle" font-size="12.5">50</text>
<text transform="translate(590.55,276.5) scale(0.92,1)" text-anchor="middle" font-size="12.5">60</text>
<text transform="translate(618.1,276.5) scale(0.92,1)" text-anchor="middle" font-size="12.5">70</text>
<text transform="translate(645.64,276.5) scale(0.92,1)" text-anchor="middle" font-size="12.5">80</text>
<text transform="translate(673.18,276.5) scale(0.92,1)" text-anchor="middle" font-size="12.5">90</text>
<text transform="translate(408,260.3) scale(0.92,1)" text-anchor="end" font-size="12.5">0.00</text>
<text transform="translate(408,226.4) scale(0.92,1)" text-anchor="end" font-size="12.5">0.02</text>
<text transform="translate(408,192.5) scale(0.92,1)" text-anchor="end" font-size="12.5">0.04</text>
<text transform="translate(408,158.6) scale(0.92,1)" text-anchor="end" font-size="12.5">0.06</text>
<text transform="translate(408,124.7) scale(0.92,1)" text-anchor="end" font-size="12.5">0.08</text>
<g transform="translate(408,90.8) scale(0.92,1)"><text x="-24.33" y="0" font-size="12.5">0.</text><path d="M-9.24,0L-10.34,0L-10.34,-7Q-10.74,-6.62 -11.38,-6.24Q-12.03,-5.87 -12.56,-5.66L-12.56,-6.73Q-11.64,-7.16 -10.99,-7.74Q-10.34,-8.32 -10.11,-8.95L-9.24,-8.95Z"/><text x="-6.95" y="0" font-size="12.5">0</text></g>
<g transform="translate(408,56.9) scale(0.92,1)"><text x="-24.33" y="0" font-size="12.5">0.</text><path d="M-9.24,0L-10.34,0L-10.34,-7Q-10.74,-6.62 -11.38,-6.24Q-12.03,-5.87 -12.56,-5.66L-12.56,-6.73Q-11.64,-7.16 -10.99,-7.74Q-10.34,-8.32 -10.11,-8.95L-9.24,-8.95Z"/><text x="-6.95" y="0" font-size="12.5">2</text></g>
<g transform="translate(408,23) scale(0.92,1)"><text x="-24.33" y="0" font-size="12.5">0.</text><path d="M-9.24,0L-10.34,0L-10.34,-7Q-10.74,-6.62 -11.38,-6.24Q-12.03,-5.87 -12.56,-5.66L-12.56,-6.73Q-11.64,-7.16 -10.99,-7.74Q-10.34,-8.32 -10.11,-8.95L-9.24,-8.95Z"/><text x="-6.95" y="0" font-size="12.5">4</text></g>
</g>
<g font-family='"Liberation Sans", sans-serif' font-size="11.5" fill="#000" stroke="#000" stroke-width="0.3">
<text transform="translate(192.7,295.1) scale(0.95,1)" text-anchor="middle">wavelength [nm]</text>
<text transform="translate(548.2,298.3) scale(0.87,1)" text-anchor="middle" font-size="12.5">t [min]</text>
<text transform="translate(25.0,139.1) rotate(-90) scale(0.91,1)" text-anchor="middle" font-size="12">Absorbance [a.u.]</text>
<text transform="translate(376.8,140.1) rotate(-90) scale(0.91,1)" text-anchor="middle" font-size="12">Absorbance [a.u.]</text>
</g>
<g font-family='"Liberation Sans", sans-serif' font-size="12" fill="#000" stroke="#000" stroke-width="0.3">
<text x="0" y="9">A</text>
<text transform="translate(358.7,8.5) scale(0.95,1)">B</text>
</g>
<rect x="256.5" y="21.5" width="65" height="150" fill="#fff" stroke="#000" stroke-width="1"/>
<g font-family='"Liberation Sans", sans-serif' font-size="9.3" fill="#000" stroke="#000" stroke-width="0.22">
<line x1="258" y1="28.6" x2="279" y2="28.6" stroke="#787878" stroke-width="1" stroke-opacity="1"/>
<text transform="translate(281.6,31.9) scale(0.93,1)" text-anchor="start" font-size="9.3">Blank</text>
<line x1="258" y1="39.93" x2="279" y2="39.93" stroke="#e4404a" stroke-width="1" stroke-opacity="1"/>
<text transform="translate(281.6,43.23) scale(0.93,1)" text-anchor="start" font-size="9.3">0 min</text>
<line x1="258" y1="51.26" x2="279" y2="51.26" stroke="#2f72de" stroke-width="1" stroke-opacity="1"/>
<text transform="translate(281.6,54.56) scale(0.93,1)" text-anchor="start" font-size="9.3">2 min</text>
<line x1="258" y1="62.59" x2="279" y2="62.59" stroke="#3aa66c" stroke-width="1" stroke-opacity="1"/>
<text transform="translate(281.6,65.89) scale(0.93,1)" text-anchor="start" font-size="9.3">4 min</text>
<line x1="258" y1="73.92" x2="279" y2="73.92" stroke="#c28ef0" stroke-width="1" stroke-opacity="1"/>
<text transform="translate(281.6,77.22) scale(0.93,1)" text-anchor="start" font-size="9.3">5 min</text>
<line x1="258" y1="85.25" x2="279" y2="85.25" stroke="#d6a42c" stroke-width="1" stroke-opacity="1"/>
<text transform="translate(281.6,88.55) scale(0.93,1)" text-anchor="start" font-size="9.3">8 min</text>
<line x1="258" y1="96.58" x2="279" y2="96.58" stroke="#36c6d6" stroke-width="1" stroke-opacity="1"/>
<g transform="translate(281.6,99.88) scale(0.93,1)"><path d="M3.47,0L2.65,0L2.65,-5.21Q2.35,-4.93 1.87,-4.65Q1.39,-4.36 0.99,-4.21L0.99,-5Q1.68,-5.33 2.16,-5.76Q2.65,-6.19 2.82,-6.66L3.47,-6.66Z"/><text x="5.17" y="0" font-size="9.3">0&#160;min</text></g>
<line x1="258" y1="107.91" x2="279" y2="107.91" stroke="#9e7e8e" stroke-width="1" stroke-opacity="1"/>
<g transform="translate(281.6,111.21) scale(0.93,1)"><path d="M3.47,0L2.65,0L2.65,-5.21Q2.35,-4.93 1.87,-4.65Q1.39,-4.36 0.99,-4.21L0.99,-5Q1.68,-5.33 2.16,-5.76Q2.65,-6.19 2.82,-6.66L3.47,-6.66Z"/><text x="5.17" y="0" font-size="9.3">5&#160;min</text></g>
<line x1="258" y1="119.24" x2="279" y2="119.24" stroke="#92922a" stroke-width="1" stroke-opacity="1"/>
<text transform="translate(281.6,122.54) scale(0.93,1)" text-anchor="start" font-size="9.3">30 min</text>
<line x1="258" y1="130.57" x2="279" y2="130.57" stroke="#ee8a50" stroke-width="1" stroke-opacity="1"/>
<text transform="translate(281.6,133.87) scale(0.93,1)" text-anchor="start" font-size="9.3">45 min</text>
<line x1="258" y1="141.9" x2="279" y2="141.9" stroke="#9ec2e6" stroke-width="1" stroke-opacity="1"/>
<text transform="translate(281.6,145.2) scale(0.93,1)" text-anchor="start" font-size="9.3">90 min</text>
<line x1="258" y1="153.23" x2="279" y2="153.23" stroke="#7cc232" stroke-width="1" stroke-opacity="1"/>
<g transform="translate(281.6,156.53) scale(0.93,1)"><path d="M3.47,0L2.65,0L2.65,-5.21Q2.35,-4.93 1.87,-4.65Q1.39,-4.36 0.99,-4.21L0.99,-5Q1.68,-5.33 2.16,-5.76Q2.65,-6.19 2.82,-6.66L3.47,-6.66Z"/><path d="M8.64,0L7.82,0L7.82,-5.21Q7.52,-4.93 7.04,-4.65Q6.56,-4.36 6.16,-4.21L6.16,-5Q6.85,-5.33 7.33,-5.76Q7.82,-6.19 7.99,-6.66L8.64,-6.66Z"/><text x="10.34" y="0" font-size="9.3">40&#160;min</text></g>
<line x1="258" y1="164.56" x2="279" y2="164.56" stroke="#5a5a5a" stroke-width="1" stroke-opacity="1"/>
<g transform="translate(281.6,167.86) scale(0.93,1)"><path d="M3.47,0L2.65,0L2.65,-5.21Q2.35,-4.93 1.87,-4.65Q1.39,-4.36 0.99,-4.21L0.99,-5Q1.68,-5.33 2.16,-5.76Q2.65,-6.19 2.82,-6.66L3.47,-6.66Z"/><text x="5.17" y="0" font-size="9.3">440&#160;min</text></g>
</g>
<rect x="422" y="231" width="7" height="7" fill="#0e1eb4"/><rect x="423" y="232" width="5" height="1.8" fill="#fff"/>
<rect x="427" y="229" width="7" height="7" fill="#0e1eb4"/><rect x="428" y="230" width="5" height="1.8" fill="#fff"/>
<rect x="433" y="222" width="7" height="7" fill="#0e1eb4"/><rect x="434" y="223" width="5" height="1.8" fill="#fff"/>
<rect x="436" y="215" width="7" height="7" fill="#0e1eb4"/><rect x="437" y="216" width="5" height="1.8" fill="#fff"/>
<rect x="444" y="207" width="7" height="7" fill="#0e1eb4"/><rect x="445" y="208" width="5" height="1.8" fill="#fff"/>
<rect x="449" y="198" width="7" height="7" fill="#0e1eb4"/><rect x="450" y="199" width="5" height="1.8" fill="#fff"/>
<rect x="463" y="180" width="7" height="7" fill="#0e1eb4"/><rect x="464" y="181" width="5" height="1.8" fill="#fff"/>
<rect x="477" y="164" width="7" height="7" fill="#0e1eb4"/><rect x="478" y="165" width="5" height="1.8" fill="#fff"/>
<rect x="491" y="149" width="7" height="7" fill="#0e1eb4"/><rect x="492" y="150" width="5" height="1.8" fill="#fff"/>
<rect x="504" y="134" width="7" height="7" fill="#0e1eb4"/><rect x="505" y="135" width="5" height="1.8" fill="#fff"/>
<rect x="546" y="100" width="7" height="7" fill="#0e1eb4"/><rect x="547" y="101" width="5" height="1.8" fill="#fff"/>
<rect x="587" y="83" width="7" height="7" fill="#0e1eb4"/><rect x="588" y="84" width="5" height="1.8" fill="#fff"/>
<rect x="670" y="68" width="7" height="7" fill="#0e1eb4"/><rect x="671" y="69" width="5" height="1.8" fill="#fff"/>
<rect x="422" y="215" width="7" height="7" fill="#ff8000"/><rect x="423" y="216" width="5" height="1.8" fill="#fff"/>
<rect x="427" y="164" width="7" height="7" fill="#ff8000"/><rect x="428" y="165" width="5" height="1.8" fill="#fff"/>
<rect x="433" y="136" width="7" height="7" fill="#ff8000"/><rect x="434" y="137" width="5" height="1.8" fill="#fff"/>
<rect x="436" y="104" width="7" height="7" fill="#ff8000"/><rect x="437" y="105" width="5" height="1.8" fill="#fff"/>
<rect x="444" y="75" width="7" height="7" fill="#ff8000"/><rect x="445" y="76" width="5" height="1.8" fill="#fff"/>
<rect x="449" y="51" width="7" height="7" fill="#ff8000"/><rect x="450" y="52" width="5" height="1.8" fill="#fff"/>
<rect x="463" y="46" width="7" height="7" fill="#ff8000"/><rect x="464" y="47" width="5" height="1.8" fill="#fff"/>
<rect x="504" y="34" width="7" height="7" fill="#ff8000"/><rect x="505" y="35" width="5" height="1.8" fill="#fff"/>
<rect x="546" y="34" width="7" height="7" fill="#ff8000"/><rect x="547" y="35" width="5" height="1.8" fill="#fff"/>
<rect x="670" y="32" width="7" height="7" fill="#ff8000"/><rect x="671" y="33" width="5" height="1.8" fill="#fff"/>
<path d="M425.28,219.18 L427.35,195.51 L429.41,174.87 L431.48,156.88 L433.54,141.18 L435.61,127.5 L437.68,115.56 L439.74,105.16 L441.81,96.08 L443.87,88.17 L445.94,81.27 L448,75.25 L450.07,70 L452.14,65.43 L454.2,61.44 L456.27,57.96 L458.33,54.93 L460.4,52.28 L462.47,49.97 L464.53,47.96 L466.6,46.21 L468.66,44.68 L470.73,43.34 L472.8,42.18 L474.86,41.17 L476.93,40.28 L478.99,39.51 L481.06,38.84 L483.12,38.25 L485.19,37.74 L487.26,37.29 L489.32,36.9 L491.39,36.57 L493.45,36.27 L495.52,36.01 L497.59,35.79 L499.65,35.59 L501.72,35.42 L503.78,35.27 L505.85,35.14 L507.91,35.03 L509.98,34.93 L512.05,34.84 L514.11,34.77 L516.18,34.7 L518.24,34.64 L520.31,34.59 L522.38,34.55 L524.44,34.51 L526.51,34.48 L528.57,34.45 L530.64,34.43 L532.71,34.4 L534.77,34.39 L536.84,34.37 L538.9,34.35 L540.97,34.34 L543.03,34.33 L545.1,34.32 L547.17,34.31 L549.23,34.3 L551.3,34.3 L553.36,34.29 L555.43,34.29 L557.5,34.28 L559.56,34.28 L561.63,34.28 L563.69,34.27 L565.76,34.27 L567.83,34.27 L569.89,34.27 L571.96,34.27 L574.02,34.26 L576.09,34.26 L578.15,34.26 L580.22,34.26 L582.29,34.26 L584.35,34.26 L586.42,34.26 L588.48,34.26 L590.55,34.26 L592.62,34.26 L594.68,34.26 L596.75,34.26 L598.81,34.26 L600.88,34.26 L602.95,34.26 L605.01,34.26 L607.08,34.26 L609.14,34.26 L611.21,34.26 L613.27,34.26 L615.34,34.26 L617.41,34.26 L619.47,34.26 L621.54,34.26 L623.6,34.26 L625.67,34.26 L627.74,34.26 L629.8,34.26 L631.87,34.26 L633.93,34.26 L636,34.26 L638.07,34.26 L640.13,34.26 L642.2,34.26 L644.26,34.26 L646.33,34.26 L648.39,34.26 L650.46,34.26 L652.53,34.26 L654.59,34.26 L656.66,34.26 L658.72,34.26 L660.79,34.26 L662.86,34.26 L664.92,34.26 L666.99,34.26 L669.05,34.26 L671.12,34.26 L673.18,34.26" fill="none" stroke="#f28a22" stroke-width="1.0" stroke-dasharray="5,3"/>
<path d="M425.28,241.72 L427.35,238.08 L429.41,234.51 L431.48,231.01 L433.54,227.57 L435.61,224.2 L437.68,220.89 L439.74,217.64 L441.81,214.45 L443.87,211.32 L445.94,208.25 L448,205.24 L450.07,202.28 L452.14,199.38 L454.2,196.53 L456.27,193.74 L458.33,191 L460.4,188.31 L462.47,185.67 L464.53,183.08 L466.6,180.53 L468.66,178.04 L470.73,175.59 L472.8,173.19 L474.86,170.83 L476.93,168.52 L478.99,166.25 L481.06,164.02 L483.12,161.84 L485.19,159.69 L487.26,157.59 L489.32,155.52 L491.39,153.49 L493.45,151.5 L495.52,149.55 L497.59,147.64 L499.65,145.76 L501.72,143.91 L503.78,142.1 L505.85,140.33 L507.91,138.59 L509.98,136.88 L512.05,135.2 L514.11,133.55 L516.18,131.93 L518.24,130.35 L520.31,128.79 L522.38,127.27 L524.44,125.77 L526.51,124.3 L528.57,122.85 L530.64,121.44 L532.71,120.05 L534.77,118.68 L536.84,117.35 L538.9,116.03 L540.97,114.75 L543.03,113.48 L545.1,112.24 L547.17,111.02 L549.23,109.83 L551.3,108.66 L553.36,107.51 L555.43,106.38 L557.5,105.27 L559.56,104.18 L561.63,103.12 L563.69,102.07 L565.76,101.04 L567.83,100.03 L569.89,99.04 L571.96,98.07 L574.02,97.12 L576.09,96.19 L578.15,95.27 L580.22,94.37 L582.29,93.49 L584.35,92.62 L586.42,91.77 L588.48,90.93 L590.55,90.11 L592.62,89.31 L594.68,88.52 L596.75,87.75 L598.81,86.99 L600.88,86.24 L602.95,85.51 L605.01,84.79 L607.08,84.09 L609.14,83.4 L611.21,82.72 L613.27,82.06 L615.34,81.4 L617.41,80.76 L619.47,80.13 L621.54,79.52 L623.6,78.91 L625.67,78.32 L627.74,77.73 L629.8,77.16 L631.87,76.6 L633.93,76.05 L636,75.51 L638.07,74.98 L640.13,74.46 L642.2,73.95 L644.26,73.44 L646.33,72.95 L648.39,72.47 L650.46,72 L652.53,71.53 L654.59,71.08 L656.66,70.63 L658.72,70.19 L660.79,69.76 L662.86,69.33 L664.92,68.92 L666.99,68.51 L669.05,68.11 L671.12,67.72 L673.18,67.33" fill="none" stroke="#2236b8" stroke-width="1.05" stroke-dasharray="4.2,2.8"/>
</g></svg>
</div></body></html>
